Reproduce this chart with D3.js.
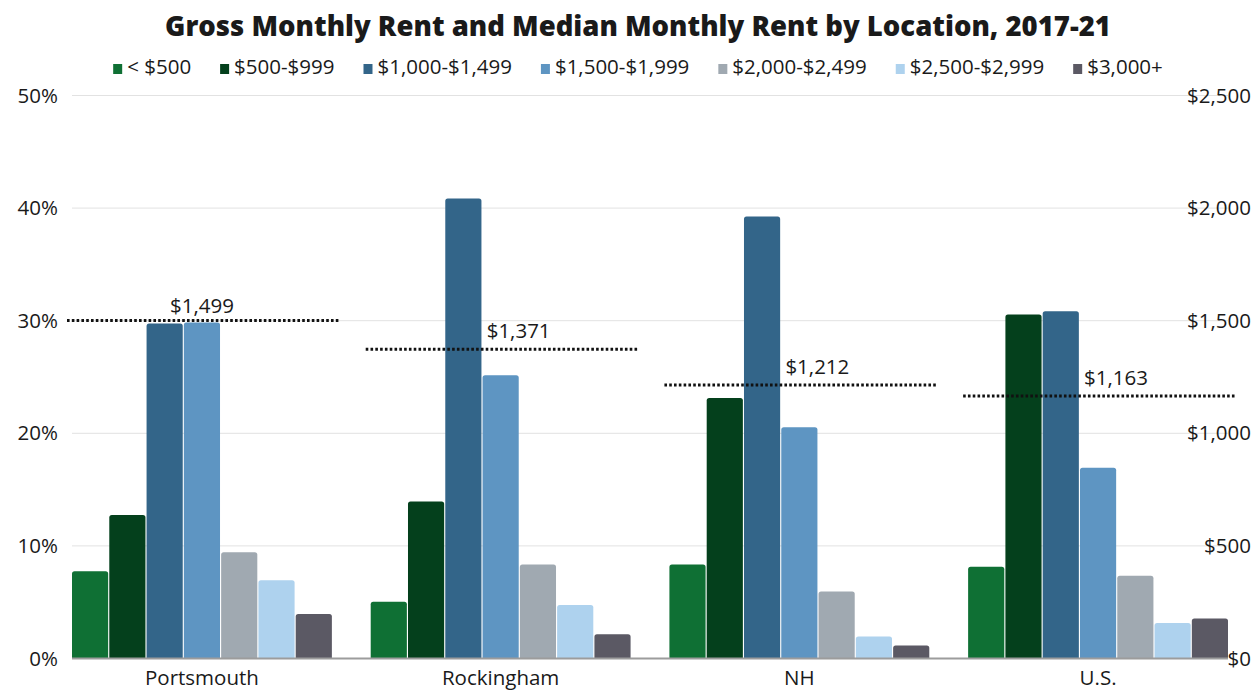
<!DOCTYPE html>
<html>
<head>
<meta charset="utf-8">
<script src="https://cdn.jsdelivr.net/npm/d3@7"></script>
<style>
  body { margin: 0; background: #fff; }
  text { font-family: "Open Sans", sans-serif; fill: #1a1a1a; }
  .title { font-size: 27.5px; font-weight: 800; }
  .tick-label, .cat-label, .median-label { font-size: 20.5px; }
  .legend-label { font-size: 20.5px; }
</style>
</head>
<body>
<svg id="chart" width="1256" height="692"></svg>
<script>
const locations = ["Portsmouth", "Rockingham", "NH", "U.S."];
const rentBands = ["< $500", "$500-$999", "$1,000-$1,499", "$1,500-$1,999", "$2,000-$2,499", "$2,500-$2,999", "$3,000+"];
const bandColors = ["#0f7034", "#04401c", "#336589", "#5e95c2", "#a0a9b1", "#aed2ee", "#5b5964"];

// percent of renters in each band, one array per band (order = locations)
const under500 = [7.7, 5.0, 8.3, 8.1];
const r500to999 = [12.7, 13.9, 23.1, 30.5];
const r1000to1499 = [29.7, 40.8, 39.2, 30.8];
const r1500to1999 = [29.8, 25.1, 20.5, 16.9];
const r2000to2499 = [9.4, 8.3, 5.9, 7.3];
const r2500to2999 = [6.9, 4.7, 1.9, 3.1];
const r3000plus = [3.9, 2.1, 1.1, 3.5];
const medianRent = [1499, 1371, 1212, 1163];

const pctTicks = [0, 10, 20, 30, 40, 50];
const dollarTicks = [0, 500, 1000, 1500, 2000, 2500];

const series = [under500, r500to999, r1000to1499, r1500to1999, r2000to2499, r2500to2999, r3000plus];

const svg = d3.select("#chart");
const plotLeft = 72, plotRight = 1228, plotTop = 95, plotBottom = 658;

const x0 = d3.scaleBand().domain(locations).range([plotLeft, plotRight]).paddingInner(0.13).paddingOuter(0);
const x1 = d3.scaleBand().domain(rentBands).range([0, x0.bandwidth()]).paddingInner(0.03);
const y = d3.scaleLinear().domain([0, 50]).range([plotBottom, plotTop]);
const y2 = d3.scaleLinear().domain([0, 2500]).range([plotBottom, plotTop]);

// title
svg.append("text").attr("class", "title")
  .attr("x", 638).attr("y", 36).attr("text-anchor", "middle")
  .text("Gross Monthly Rent and Median Monthly Rent by Location, 2017-21");

// legend
const legend = svg.append("g");
let lx = 0;
rentBands.forEach((b, i) => {
  const g = legend.append("g").attr("transform", `translate(${lx},0)`);
  g.append("rect").attr("x", 0).attr("y", -10).attr("width", 9).attr("height", 10).attr("fill", bandColors[i]);
  const t = g.append("text").attr("class", "legend-label").attr("x", 14).attr("y", 0).text(b);
  lx += 14 + t.node().getComputedTextLength() + 29;
});
const legendWidth = lx - 29;
legend.attr("transform", `translate(${(1256 - legendWidth) / 2 + 10},74)`);

// gridlines
svg.append("g")
  .attr("transform", `translate(${plotLeft},0)`)
  .call(d3.axisLeft(y).tickValues(pctTicks.slice(1)).tickSize(-(plotRight - plotLeft)).tickFormat(""))
  .call(g => g.select(".domain").remove())
  .call(g => g.selectAll("line").attr("stroke", "#e2e2e2").attr("stroke-width", 1));

// left axis labels
svg.append("g")
  .attr("transform", `translate(${plotLeft - 14},0)`)
  .call(d3.axisLeft(y).tickValues(pctTicks).tickSize(0).tickPadding(0).tickFormat(d => d + "%"))
  .call(g => g.select(".domain").remove())
  .call(g => g.selectAll("text").attr("class", "tick-label").attr("dy", "0.35em").attr("font-family", null).attr("font-size", null).attr("fill", "#1a1a1a"));

// right axis labels
svg.append("g")
  .attr("transform", `translate(1251,0)`)
  .call(d3.axisLeft(y2).tickValues(dollarTicks).tickSize(0).tickPadding(0).tickFormat(d => "$" + d3.format(",")(d)))
  .call(g => g.select(".domain").remove())
  .call(g => g.selectAll("text").attr("class", "tick-label").attr("dy", "0.35em").attr("font-family", null).attr("font-size", null).attr("fill", "#1a1a1a"));

// bars with rounded tops
function topRounded(x, yTop, w, h, r) {
  r = Math.min(r, h, w / 2);
  return `M${x},${yTop + h}V${yTop + r}Q${x},${yTop} ${x + r},${yTop}H${x + w - r}Q${x + w},${yTop} ${x + w},${yTop + r}V${yTop + h}Z`;
}

const groups = svg.append("g").selectAll("g")
  .data(locations)
  .join("g")
  .attr("transform", d => `translate(${x0(d)},0)`);

groups.selectAll("path")
  .data((loc, li) => rentBands.map((b, bi) => ({ band: b, value: series[bi][li], color: bandColors[bi] })))
  .join("path")
  .attr("d", d => topRounded(x1(d.band), y(d.value), x1.bandwidth(), plotBottom - y(d.value), 2.5))
  .attr("fill", d => d.color);

// baseline
svg.append("line")
  .attr("x1", plotLeft).attr("x2", plotRight).attr("y1", plotBottom + 0.5).attr("y2", plotBottom + 0.5)
  .attr("stroke", "#9c9c9c").attr("stroke-width", 2);

// category labels
svg.append("g")
  .attr("transform", `translate(0,${plotBottom})`)
  .call(d3.axisBottom(x0).tickSize(0).tickPadding(12))
  .call(g => g.select(".domain").remove())
  .call(g => g.selectAll("text").attr("class", "cat-label").attr("font-family", null).attr("font-size", null).attr("fill", "#1a1a1a"));

// median rent lines
const medians = svg.append("g");
locations.forEach((loc, i) => {
  const yy = y2(medianRent[i]);
  medians.append("line")
    .attr("x1", x0(loc) - 5).attr("x2", x0(loc) + x0.bandwidth() + 7)
    .attr("y1", yy).attr("y2", yy)
    .attr("stroke", "#111").attr("stroke-width", 3).attr("stroke-dasharray", "2.6 2.2");
  medians.append("text").attr("class", "median-label")
    .attr("x", x0(loc) + x0.bandwidth() / 2 + (i === 0 ? 0 : 18))
    .attr("y", yy - (i === 0 ? 7 : 11))
    .attr("text-anchor", "middle")
    .text("$" + d3.format(",")(medianRent[i]));
});
</script>
</body>
</html>
